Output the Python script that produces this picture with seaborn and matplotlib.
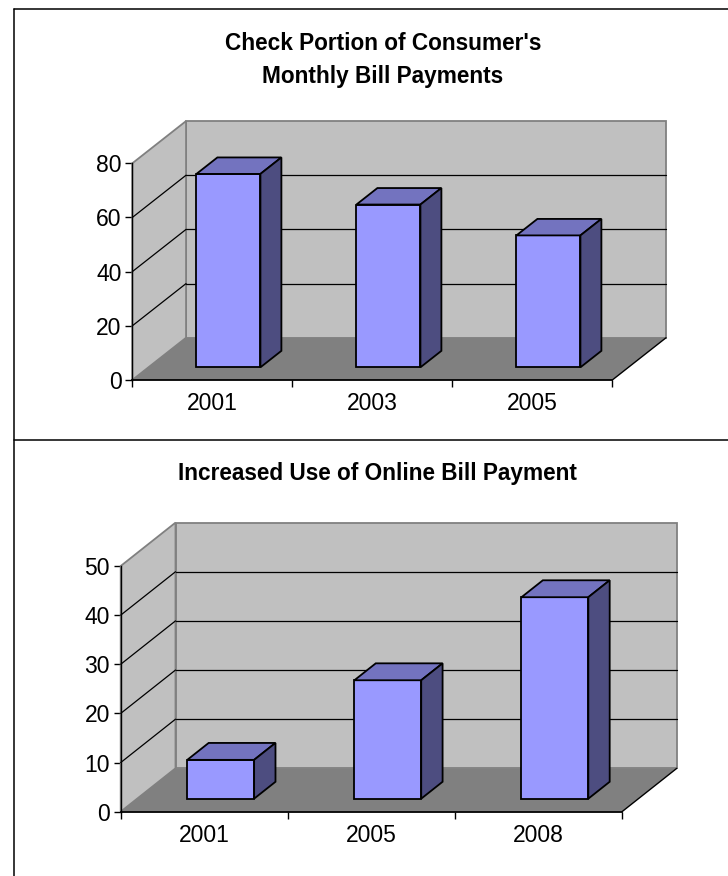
import matplotlib
matplotlib.use("Agg")
import matplotlib.pyplot as plt
from matplotlib.patches import Polygon, Rectangle
from matplotlib.lines import Line2D
import seaborn as sns

# values
check_years = ["2001", "2003", "2005"]
check_share = [71.4, 60.1, 48.7]
check_ticks = [0, 20, 40, 60, 80]

online_years = ["2001", "2005", "2008"]
online_share = [7.9, 24.1, 41.0]
online_ticks = [0, 10, 20, 30, 40, 50]

FRONT = "#9999FF"
TOP = "#7373BF"
SIDE = "#4D4D80"
WALL = "#C0C0C0"
FLOOR = "#808080"
WALL_EDGE = "#808080"

F1, F2 = 0.30, 0.69   # front and back of the bars, as share of floor depth
W, H = 728, 876


def draw_3d_bars(ax, cats, vals, ticks, dx, dy):
    ''' excel style 3d column chart: walls, floor, then bars with a top
        and a side face. dx, dy = depth of the floor in data units
    '''
    top = ticks[-1]
    n = len(cats)
    x0, x1 = -0.5, n - 0.5

    sns.barplot(x=cats, y=vals, ax=ax, width=0.4, color=FRONT, saturation=1,
                edgecolor="black", linewidth=1.3, zorder=3)
    bars = list(ax.patches)

    # back wall, left wall, floor
    ax.add_patch(Rectangle((x0 + dx, dy), n, top, fc=WALL, ec=WALL_EDGE,
                           lw=1.3, zorder=0.5, clip_on=False))
    ax.add_patch(Polygon([(x0, 0), (x0, top), (x0 + dx, top + dy), (x0 + dx, dy)],
                         fc=WALL, ec=WALL_EDGE, lw=1.3, zorder=0.6, clip_on=False))
    ax.add_patch(Polygon([(x0, 0), (x1, 0), (x1 + dx, dy), (x0 + dx, dy)],
                         fc=FLOOR, ec="none", zorder=0.7, clip_on=False))
    ax.plot([x1, x1 + dx], [0, dy], color="black", lw=1, zorder=0.9, clip_on=False)

    # gridlines on left and back wall
    for v in ticks[1:-1]:
        ax.plot([x0, x0 + dx], [v, v + dy], color="black", lw=0.9,
                zorder=0.8, clip_on=False)
        ax.plot([x0 + dx, x1 + dx], [v + dy, v + dy], color="black", lw=0.9,
                zorder=0.8, clip_on=False)

    # push the bars back and add top + side
    ddx = (F2 - F1) * dx
    ddy = (F2 - F1) * dy
    for p in bars:
        p.set_x(p.get_x() + F1 * dx)
        p.set_y(p.get_y() + F1 * dy)
        p.set_clip_on(False)
        bx0 = p.get_x()
        bx1 = bx0 + p.get_width()
        by0 = p.get_y()
        by1 = by0 + p.get_height()
        ax.add_patch(Polygon([(bx0, by1), (bx1, by1), (bx1 + ddx, by1 + ddy),
                              (bx0 + ddx, by1 + ddy)], fc=TOP, ec="black",
                             lw=1.3, zorder=3, clip_on=False))
        ax.add_patch(Polygon([(bx1, by0), (bx1 + ddx, by0 + ddy),
                              (bx1 + ddx, by1 + ddy), (bx1, by1)], fc=SIDE,
                             ec="black", lw=1.3, zorder=3, clip_on=False))

    ax.set_xlim(x0, x1)
    ax.set_ylim(0, top)
    ax.set_facecolor("none")
    ax.set_xlabel("")
    ax.set_ylabel("")
    for s in ["top", "right"]:
        ax.spines[s].set_visible(False)
    ax.spines["left"].set_color("black")
    ax.spines["left"].set_linewidth(1)
    ax.spines["bottom"].set_color("black")
    ax.spines["bottom"].set_linewidth(1.3)
    ax.spines["left"].set_zorder(2)
    ax.spines["bottom"].set_zorder(2)

    ax.set_yticks(ticks)
    ax.set_yticklabels([str(t) for t in ticks])
    ax.tick_params(axis="y", length=4.8, width=1, pad=3, labelsize=16.5,
                   direction="out", left=True, color="black", labelcolor="black")
    ax.set_xticks([x0 + i for i in range(n + 1)])
    ax.set_xticklabels([""] * (n + 1))
    ax.set_xticks(list(range(n)), minor=True)
    ax.set_xticklabels(cats, minor=True)
    ax.tick_params(axis="x", which="major", length=4.7, width=1, bottom=True,
                   direction="out", color="black")
    ax.tick_params(axis="x", which="minor", length=0, pad=9, labelsize=16.5,
                   labelcolor="black")


sns.set_style("white")
plt.rcParams["font.family"] = ["Liberation Sans", "DejaVu Sans"]
plt.rcParams["text.color"] = "black"

fig = plt.figure(figsize=(W / 100, H / 100), dpi=100)

ax_top = fig.add_axes([132.3 / W, 1 - 380 / H, 480 / W, 216.7 / H])
draw_3d_bars(ax_top, check_years, check_share, check_ticks, 0.336, 15.6)

ax_bot = fig.add_axes([120.7 / W, 1 - 811.7 / H, 501.3 / W, 245.7 / H])
draw_3d_bars(ax_bot, online_years, online_share, online_ticks, 0.328, 8.83)

fig.text(383 / W, 1 - 31.5 / H, "Check Portion of Consumer's\nMonthly Bill Payments",
         ha="center", va="top", fontsize=16.3, fontweight="bold", linespacing=1.6,
         color="black")
fig.text(377 / W, 1 - 462 / H, "Increased Use of Online Bill Payment",
         ha="center", va="top", fontsize=16.3, fontweight="bold", color="black")

# chart frames
lx = 13.5 / W
fig.add_artist(Line2D([lx, lx], [0, 1 - 8.5 / H], transform=fig.transFigure,
                      color="black", lw=1.1))
fig.add_artist(Line2D([lx, 1], [1 - 8.5 / H, 1 - 8.5 / H], transform=fig.transFigure,
                      color="black", lw=1.1))
fig.add_artist(Line2D([lx, 1], [1 - 440 / H, 1 - 440 / H], transform=fig.transFigure,
                      color="black", lw=1.1))

fig.savefig("out.png", dpi=100)
